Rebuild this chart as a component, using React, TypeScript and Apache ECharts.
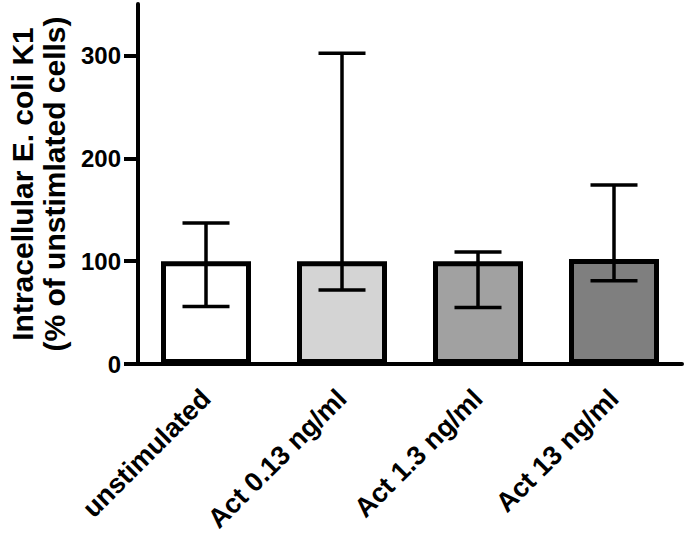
import React, { useEffect, useRef } from "react";
import * as echarts from "echarts";

const categories = ["unstimulated", "Act 0.13 ng/ml", "Act 1.3 ng/ml", "Act 13 ng/ml"];
const meanValues = [100, 100, 100, 102];
const errLow = [56, 72, 55, 81];
const errHigh = [137, 302, 109, 174];
const barColors = ["#ffffff", "#d4d4d4", "#a1a1a1", "#7f7f7f"];
const yTicks = [0, 100, 200, 300];

const FONT = "'Liberation Sans', Arial, Helvetica, sans-serif";

export default function App() {
  const ref = useRef<HTMLDivElement>(null);
  useEffect(() => {
    if (!ref.current) return;
    const chart = echarts.init(ref.current, null, { renderer: "svg" });
    const option: any = {
      animation: false,
      backgroundColor: "#ffffff",
      grid: { left: 138, right: 3, top: 4, bottom: 171, containLabel: false, outerBoundsMode: "none" },
      xAxis: {
        type: "category",
        data: categories,
        axisLine: { lineStyle: { color: "#000", width: 4 } },
        axisTick: { alignWithLabel: true, length: 13, lineStyle: { color: "#000", width: 4 } },
        axisLabel: {
          rotate: 45,
          margin: 30,
          interval: 0,
          color: "#000",
          fontSize: 27,
          fontWeight: "bold",
          fontFamily: FONT,
        },
        splitLine: { show: false },
      },
      yAxis: {
        type: "value",
        min: 0,
        max: 350,
        interval: 100,
        name: "Intracellular E. coli K1\n(% of unstimlated cells)",
        nameLocation: "middle",
        nameRotate: 90,
        nameGap: 66,
        nameTextStyle: {
          color: "#000",
          fontSize: 30,
          fontWeight: "bold",
          fontFamily: FONT,
          lineHeight: 32,
        },
        axisLine: { show: true, lineStyle: { color: "#000", width: 4 } },
        axisTick: { show: true, length: 14, customValues: yTicks, lineStyle: { color: "#000", width: 4 } },
        axisLabel: {
          customValues: yTicks,
          margin: 17,
          color: "#000",
          fontSize: 24,
          fontWeight: "bold",
          fontFamily: FONT,
        },
        splitLine: { show: false },
      },
      series: [
        {
          type: "bar",
          barWidth: 90,
          data: meanValues.map((v, i) => ({
            value: v,
            itemStyle: { color: barColors[i] },
          })),
          itemStyle: { borderColor: "#000", borderWidth: 5 },
          z: 2,
        },
        {
          type: "custom",
          z: 5,
          data: categories.map((_, i) => [i, errLow[i], errHigh[i]]),
          renderItem: (params: any, api: any) => {
            const lo = api.coord([api.value(0), api.value(1)]);
            const hi = api.coord([api.value(0), api.value(2)]);
            const half = 23.5;
            const style = { stroke: "#000", lineWidth: 3.5 };
            return {
              type: "group",
              children: [
                { type: "line", shape: { x1: lo[0], y1: lo[1], x2: hi[0], y2: hi[1] }, style },
                { type: "line", shape: { x1: hi[0] - half, y1: hi[1], x2: hi[0] + half, y2: hi[1] }, style },
                { type: "line", shape: { x1: lo[0] - half, y1: lo[1], x2: lo[0] + half, y2: lo[1] }, style },
              ],
            };
          },
        },
      ],
    };
    chart.setOption(option);
    return () => chart.dispose();
  }, []);
  return (
    <div
      ref={ref}
      style={{ position: "absolute", left: 0, top: 0, width: 685, height: 535 }}
    />
  );
}
